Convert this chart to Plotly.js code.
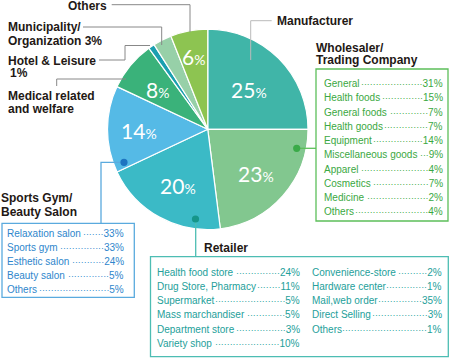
<!DOCTYPE html>
<html><head><meta charset="utf-8">
<script src="https://cdn.plot.ly/plotly-3.0.1.min.js"></script>
<style>html,body{margin:0;padding:0;background:#fff}#chart{width:451px;height:358px}</style>
</head><body><div id="chart"></div>
<script>
// ---- data ----
const categories = ['Manufacturer', 'Wholesaler/Trading Company', 'Retailer', 'Sports Gym/Beauty Salon',
  'Medical related and welfare', 'Hotel & Leisure', 'Municipality/Organization', 'Others'];
const shares = [25, 23, 20, 14, 8, 1, 3, 6];

const wholesalerItems = ['General', 'Health foods', 'General foods', 'Health goods', 'Equipment',
  'Miscellaneous goods', 'Apparel', 'Cosmetics', 'Medicine', 'Others'];
const wholesalerShares = [31, 15, 7, 7, 14, 9, 4, 7, 2, 4];

const sportsItems = ['Relaxation salon', 'Sports gym', 'Esthetic salon', 'Beauty salon', 'Others'];
const sportsShares = [33, 33, 24, 5, 5];

const retailerItemsA = ['Health food store', 'Drug Store, Pharmacy', 'Supermarket', 'Mass marchandiser',
  'Department store', 'Variety shop'];
const retailerSharesA = [24, 11, 5, 5, 3, 10];
const retailerItemsB = ['Convenience-store', 'Hardware center', 'Mail,web order', 'Direct Selling', 'Others'];
const retailerSharesB = [2, 1, 35, 3, 1];

// ---- styles ----
const sliceColors = ['#40b5a8', '#82c78f', '#3bbac6', '#55bae6', '#3ab27a', '#1a9fb0', '#97d0a8', '#8dc451'];
const labelRadius = [0.58, 0.64, 0.62, 0.69, 0.65, 0, 0, 0.75]; // fraction of pie radius for % labels (0 = none)
const W = 451, H = 358;
const X = px => px / W, Y = py => 1 - py / H;
const FAM = '"Liberation Sans", Arial, Helvetica, sans-serif';
const FS = 10;      // list text size
const DOT_FS = 8.8; // leader dot size
const DOT = '\u00B7';
const dots = n => "<span style='font-size:" + DOT_FS + "px'>" + DOT.repeat(n) + '</span>';

const annotations = [];
const shapes = [];
const rows = []; // leader rows fitted after the first render

function label(text, x, y, opts) {
  annotations.push(Object.assign({
    text: text, x: X(x), y: Y(y), xref: 'paper', yref: 'paper', xanchor: 'left', yanchor: 'middle',
    showarrow: false, borderpad: 0, borderwidth: 0,
    font: { family: FAM, size: 12, color: '#231815', weight: 'bold' }
  }, opts || {}));
  return annotations.length - 1;
}
function path(pts, color, width) {
  let d = pts.map((p, i) => (i ? 'L' : 'M') + X(p[0]) + ',' + Y(p[1])).join(' ');
  shapes.push({ type: 'path', path: d, xref: 'paper', yref: 'paper', line: { color: color, width: width || 1 } });
}
function rect(x0, y0, x1, y1, color) {
  shapes.push({ type: 'rect', xref: 'paper', yref: 'paper', x0: X(x0), x1: X(x1), y0: Y(y1), y1: Y(y0),
    line: { color: color, width: 1.3 }, fillcolor: 'rgba(0,0,0,0)' });
}
function dot(cx, cy, color) {
  const r = 3.6;
  shapes.push({ type: 'circle', xref: 'paper', yref: 'paper', x0: X(cx - r), x1: X(cx + r), y0: Y(cy + r), y1: Y(cy - r),
    line: { width: 0 }, fillcolor: color });
}
function list(items, vals, xl, xr, y0, step, color) {
  items.forEach((name, i) => {
    const v = vals[i] + '%';
    const y = y0 + i * step;
    const f = { family: FAM, size: FS, color: color, weight: 'normal' };
    label(name, xl, y, { font: f });
    const k = label(dots(8) + v, xr, y, { font: f, xanchor: 'right' });
    rows.push({ name: name, value: v, xl: xl, xr: xr, idx: k });
  });
}

// titles
label('Others', 68.3, 6);
label('Municipality/', 8, 27);
label('Organization ' + shares[6] + '%', 8, 40.5);
label('Hotel &amp; Leisure', 8, 60.8);
label(shares[5] + '%', 10, 73.3);
label('Medical related', 8, 95.8);
label('and welfare', 8, 108.5);
label('Sports Gym/', 0.7, 197.5);
label('Beauty Salon', 0.7, 211.8);
label('Retailer', 204.3, 247.8);
label('Wholesaler/', 316, 47.8);
label('Trading Company', 316, 59.5);
label('Manufacturer', 276.7, 20.8);

// leader lines
const gray = '#888888';
path([[111.7, 4.7], [190, 4.7], [190, 32]], gray);
path([[83, 27], [161.7, 27], [161.7, 45]], gray);
path([[99, 60], [125, 60], [125, 45.5], [150, 45.5]], gray);
path([[56.7, 86], [56.7, 79], [126, 79]], gray);
path([[271.7, 20.7], [250.7, 20.7], [250.7, 60]], '#bbbbbb');

// boxes
const gBorder = '#5cbf5a', bBorder = '#5aaade', tBorder = '#4dbdb3';
rect(316, 69, 448, 221, gBorder);
rect(2, 223.3, 134.3, 297.3, bBorder);
rect(150.5, 256.7, 448.3, 356.7, tBorder);
path([[296.7, 148.3], [316, 148.3]], gBorder, 1.3);
path([[124, 162.3], [101, 162.3], [101, 223.3]], bBorder, 1.3);
path([[195.7, 219], [195.7, 256.7]], tBorder, 1.3);
dot(296.7, 148.3, '#3aaa48');
dot(124, 162.3, '#1e74c0');
dot(195.5, 219, '#16968a');

// lists
list(wholesalerItems, wholesalerShares, 324, 442.7, 83.7, 14.22, '#3aa842');
list(sportsItems, sportsShares, 7.3, 124, 233.3, 14.17, '#2e86cc');
list(retailerItemsA, retailerSharesA, 157.3, 300, 272.2, 14.2, '#24a09a');
list(retailerItemsB, retailerSharesB, 311.7, 442.3, 272.2, 14.2, '#24a09a');

// pie geometry (pixels) and percentage labels placed along each slice's mid angle
const pieCx = 207.75, pieCy = 129.3, pieR = 100.25;
const total = shares.reduce((a, b) => a + b, 0);
let cum = 0;
shares.forEach((v, i) => {
  const mid = (cum + v / 2) / total * 2 * Math.PI;
  cum += v;
  if (!labelRadius[i]) return;
  const rr = labelRadius[i] * pieR;
  const px = pieCx + rr * Math.sin(mid), py = pieCy - rr * Math.cos(mid) + 1.5;
  annotations.push({
    text: v + "<span style='font-size:14px'>%</span>", x: X(px), y: Y(py), xref: 'paper', yref: 'paper',
    xanchor: 'center', yanchor: 'middle', showarrow: false, borderpad: 0, borderwidth: 0,
    font: { family: 'Lato, "Open Sans", sans-serif', size: 21, color: '#ffffff' }
  });
});

const trace = {
  type: 'pie', labels: categories, values: shares, sort: false, direction: 'clockwise', rotation: 0,
  marker: { colors: sliceColors, line: { color: '#ffffff', width: 1.2 } },
  textinfo: 'none',
  domain: { x: [X(pieCx - pieR), X(pieCx + pieR)], y: [Y(pieCy + pieR), Y(pieCy - pieR)] },
  hoverinfo: 'none', showlegend: false
};

const layout = {
  width: W, height: H, margin: { l: 0, r: 0, t: 0, b: 0 },
  paper_bgcolor: '#ffffff', showlegend: false,
  annotations: annotations, shapes: shapes
};

Plotly.newPlot('chart', [trace], layout, { displayModeBar: false, staticPlot: true }).then(gd => {
  // measure with the same SVG text rendering Plotly uses, then fit the dot leaders
  const refText = gd.querySelector('.annotation-text');
  const probe = refText.cloneNode(false);
  refText.parentNode.appendChild(probe);
  probe.style.fontFamily = FAM; probe.style.fontWeight = 'normal';
  const m = (s, size) => { probe.style.fontSize = size + 'px'; probe.textContent = s; return probe.getComputedTextLength(); };
  const dw = m(DOT.repeat(20), DOT_FS) / 20;
  rows.forEach(r => {
    const avail = (r.xr - r.xl) - m(r.name, FS) - m(r.value, FS) - 0.6;
    const n = Math.max(2, Math.floor(avail / dw));
    annotations[r.idx].text = dots(n) + r.value;
  });
  probe.remove();
  return Plotly.relayout(gd, { annotations: annotations });
});
</script></body></html>
